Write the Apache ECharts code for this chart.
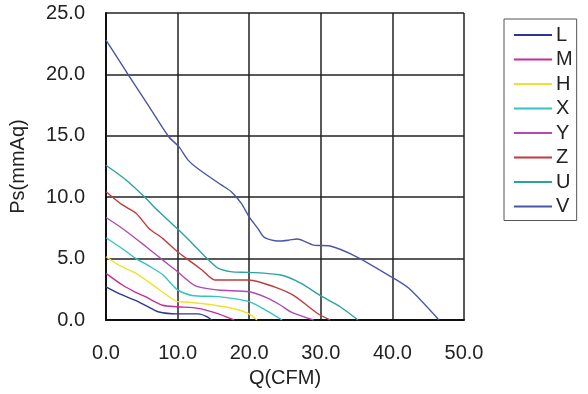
<!DOCTYPE html>
<html>
<head>
<meta charset="utf-8">
<script src="https://cdn.jsdelivr.net/npm/echarts@6/dist/echarts.min.js"></script>
<style>html,body{margin:0;padding:0;background:#fff;}#c{width:588px;height:394px;}</style>
</head>
<body>
<div id="c"></div>
<script>
const seriesNames = ['L','M','H','X','Y','Z','U','V'];
const xTicks = ['0.0','10.0','20.0','30.0','40.0','50.0'];
const yTicks = ['0.0','5.0','10.0','15.0','20.0','25.0'];

const L = [[0,2.7],[2,2.1],[4.1,1.6],[5.5,1.2],[7.4,0.65],[10,0.5],[12.9,0.5],[14,0.3],[14.8,0]];
const M = [[0,3.8],[2.3,2.85],[4,2.3],[5.5,1.9],[7.9,1.2],[10,1.08],[12.9,0.95],[15.7,0.5],[17.9,0]];
const H = [[0,5.15],[2,4.4],[4.2,3.8],[6.9,2.7],[8.8,1.9],[10,1.5],[11.5,1.45],[15.2,1.2],[18,0.9],[19.8,0.55],[21.1,0]];
const X = [[0,6.7],[2.3,5.8],[4.2,5.0],[6,4.4],[7.9,3.7],[10,2.45],[12,2.0],[15.7,1.9],[20,1.5],[22.6,0.7],[24.6,0]];
const Y = [[0,8.35],[2.3,7.45],[5.6,5.97],[7.9,4.9],[9.7,4.07],[12.5,2.77],[15.7,2.44],[20,2.3],[22.5,1.8],[24.4,1.2],[25.8,0.67],[29,0]];
const Z = [[0,10.45],[2.3,9.37],[4.2,8.7],[6,7.46],[7.9,6.65],[10,5.56],[11.5,4.9],[13.4,4.07],[15.2,3.26],[20,3.26],[23.5,2.7],[26.2,2.0],[29.5,0.55],[31.3,0]];
const U = [[0,12.6],[2.8,11.4],[5.6,9.9],[6.9,9.1],[10.2,7.3],[12.5,5.97],[14.3,4.9],[15.7,4.2],[18,3.9],[20,3.88],[24.4,3.66],[27.2,3.0],[29.9,2.0],[32.7,1.08],[35.2,0]];
const V = [[0,22.8],[3.3,19.8],[6,17.4],[8.8,14.9],[10.2,14.1],[11.5,13.0],[12.9,12.3],[16.1,11.0],[17.5,10.45],[18.9,9.5],[20,8.4],[21.2,7.46],[22.1,6.73],[24,6.43],[25.5,6.5],[26.7,6.6],[29,6.1],[31.3,6.03],[35,5.15],[39.8,3.53],[42.3,2.58],[46.5,0]];

const seriesData = [L,M,H,X,Y,Z,U,V];
const colors = ['#2c3794','#c62d95','#f2e030','#35c4c0','#b04ab0','#c23a3a','#2aa39e','#4a55a8'];

const font = '"Liberation Sans", Arial, sans-serif';
const chart = echarts.init(document.getElementById('c'), null, {renderer:'canvas'});
chart.setOption({
  animation: false,
  backgroundColor: '#fff',
  grid: {left:103, top:13, right:124, bottom:74, containLabel:false},
  legend: {
    orient: 'vertical', left: 504, top: 19,
    data: seriesNames,
    icon: 'rect', itemWidth: 38, itemHeight: 2, itemGap: 4.5,
    padding: [6, 4, 4, 10],
    borderColor: '#555', borderWidth: 1,
    textStyle: {fontFamily: font, fontSize: 20, color: '#222', lineHeight: 20, padding:[0,0,0,-1]}
  },
  xAxis: {
    type: 'value', min: 0, max: 50, interval: 10,
    name: 'Q(CFM)', nameLocation: 'middle', nameGap: 48,
    nameTextStyle: {fontFamily: font, fontSize: 20, color: '#222'},
    axisLine: {show: true, lineStyle: {color: '#111', width: 2}},
    axisTick: {show: false},
    axisLabel: {margin: 23, fontFamily: font, fontSize: 20, color: '#222',
      formatter: v => xTicks[Math.round(v/10)]},
    splitLine: {show: true, lineStyle: {color: '#222', width: 1.5}}
  },
  yAxis: {
    type: 'value', min: 0, max: 25, interval: 5,
    name: 'Ps(mmAq)', nameLocation: 'middle', nameGap: 78,
    nameTextStyle: {fontFamily: font, fontSize: 20, color: '#222'},
    axisLine: {show: true, lineStyle: {color: '#111', width: 2}},
    axisTick: {show: false},
    axisLabel: {margin: 21, fontFamily: font, fontSize: 20, color: '#222',
      formatter: v => yTicks[Math.round(v/5)]},
    splitLine: {show: true, lineStyle: {color: '#222', width: 1.5}}
  },
  series: seriesNames.map((n,i) => ({
    name: n, type: 'line', data: seriesData[i], symbol: 'none', smooth: 0.25,
    lineStyle: {color: colors[i], width: 1.4}, itemStyle: {color: colors[i]}
  }))
});
</script>
</body>
</html>
